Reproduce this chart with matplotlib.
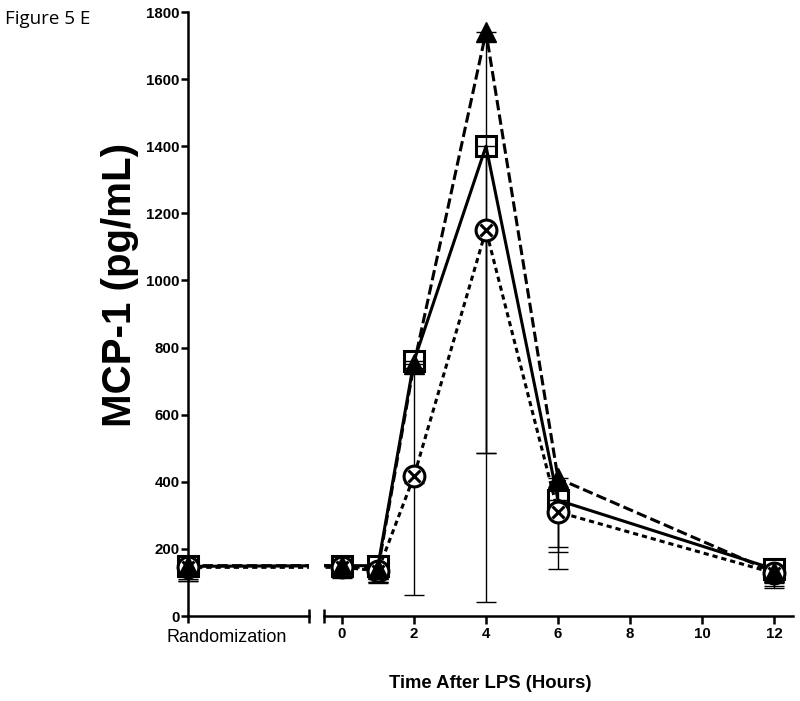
import matplotlib
matplotlib.use('Agg')
import matplotlib.pyplot as plt
import numpy as np

plt.rcParams['font.family'] = ['Liberation Sans', 'DejaVu Sans']

# hours after LPS (randomization is shown on its own broken segment)
HOURS = [0, 1, 2, 4, 6, 12]
RAND_LABEL = 'Randomization'

# series values (pg/mL): randomization value, then one per hour
SQ_RAND = 148
SQ_VALS = [150, 150, 760, 1400, 345, 140]
TRI_RAND = 150
TRI_VALS = [150, 140, 750, 1740, 410, 130]
CIR_RAND = 145
CIR_VALS = [145, 135, 417, 1150, 310, 128]

# lower error bars (SEM, only drawn downwards)
SQ_ERR_RAND = 43
SQ_ERR = [37, 52, 20, 914, 140, 42]
TRI_ERR_RAND = 40
TRI_ERR = [35, 40, 687, 1698, 270, 47]
CIR_ERR_RAND = 40
CIR_ERR = [30, 35, 20, 664, 120, 40]

YTICKS = [0, 200, 400, 600, 800, 1000, 1200, 1400, 1600, 1800]
XTICKS = [0, 2, 4, 6, 8, 10, 12]

PX_PER_H = 36.0
R_POS = -0.5 - 136 / PX_PER_H           # virtual x of randomization
LEFT_END = R_POS + 121 / PX_PER_H

fig = plt.figure(figsize=(8, 7.01), dpi=100)
ax1 = fig.add_axes([188 / 800, 1 - 616 / 701, 121 / 800, 604 / 701])
ax2 = fig.add_axes([324 / 800, 1 - 616 / 701, 469 / 800, 604 / 701])

series = [
    (SQ_RAND, SQ_VALS, SQ_ERR_RAND, SQ_ERR, '-', 's'),
    (TRI_RAND, TRI_VALS, TRI_ERR_RAND, TRI_ERR, (0, (3.4, 1.4)), '^'),
    (CIR_RAND, CIR_VALS, CIR_ERR_RAND, CIR_ERR, (0, (1.7, 1.3)), 'o'),
]

for ax in (ax1, ax2):
    for rv, vals, re_, errs, ls, mk in series:
        x = [R_POS] + HOURS
        y = [rv] + vals
        e = [re_] + errs
        clip = ax is ax2
        ax.errorbar(x, y, yerr=[e, np.zeros(len(e))], fmt='none', ecolor='black',
                    elinewidth=1, capsize=7, capthick=1, zorder=2, clip_on=clip)
        ax.plot(x, y, color='black', lw=2.2, linestyle=ls, zorder=3)
        if mk == 's':
            ax.plot(x, y, linestyle='none', marker='s', ms=15, mfc='none',
                    mec='black', mew=2.2, zorder=4, clip_on=clip)
        elif mk == '^':
            ax.plot(x, y, linestyle='none', marker='^', ms=14, mfc='black',
                    mec='black', zorder=8, clip_on=clip)
        else:
            ax.plot(x, y, linestyle='none', marker='o', ms=15, mfc='white',
                    mec='black', mew=2.2, zorder=6, clip_on=clip)
            ax.plot(x, y, linestyle='none', marker='x', ms=9, mec='black',
                    mew=2.2, zorder=7, clip_on=clip)
    ax.set_ylim(0, 1800)
    ax.spines['top'].set_visible(False)
    ax.spines['right'].set_visible(False)
    ax.spines['bottom'].set_linewidth(1.8)
    ax.spines['left'].set_linewidth(1.8)

# left segment
ax1.set_xlim(R_POS, LEFT_END)
ax1.set_yticks(YTICKS)
ax1.set_yticklabels([str(v) for v in YTICKS], fontweight='bold', fontsize=10.8)
ax1.tick_params(axis='y', direction='out', length=5, width=1.8, pad=1)
ax1.set_xticks([R_POS])
ax1.set_xticklabels([''])
ax1.set_xticks([LEFT_END], minor=True)
ax1.tick_params(axis='x', which='major', direction='out', length=5, width=1.8)
ax1.tick_params(axis='x', which='minor', direction='inout', length=10, width=1.8)
ax1.text(R_POS + 39 / PX_PER_H, -0.035, RAND_LABEL, transform=ax1.get_xaxis_transform(),
         ha='center', va='center', fontsize=13)

# right segment
ax2.set_xlim(-0.5, -0.5 + 469 / PX_PER_H)
ax2.spines['left'].set_visible(False)
ax2.set_yticks([])
ax2.set_xticks(XTICKS)
ax2.set_xticklabels([str(v) for v in XTICKS], fontweight='bold', fontsize=10.8)
ax2.set_xticks([-0.5], minor=True)
ax2.tick_params(axis='x', which='major', direction='out', length=6, width=1.8, pad=2)
ax2.tick_params(axis='x', which='minor', direction='inout', length=10, width=1.8)

fig.text(120 / 800, 1 - 285 / 701, 'MCP-1 (pg/mL)', rotation=90, ha='center',
         va='center', fontsize=29, fontweight='bold')
fig.text(490 / 800, 1 - 683 / 701, 'Time After LPS (Hours)', ha='center',
         va='center', fontsize=13.3, fontweight='bold')
fig.text(5 / 800, 1 - 19 / 701, 'Figure 5 E', ha='left', va='center',
         fontsize=13.5, family=['Open Sans', 'DejaVu Sans'])

fig.savefig('out.png', dpi=100)
